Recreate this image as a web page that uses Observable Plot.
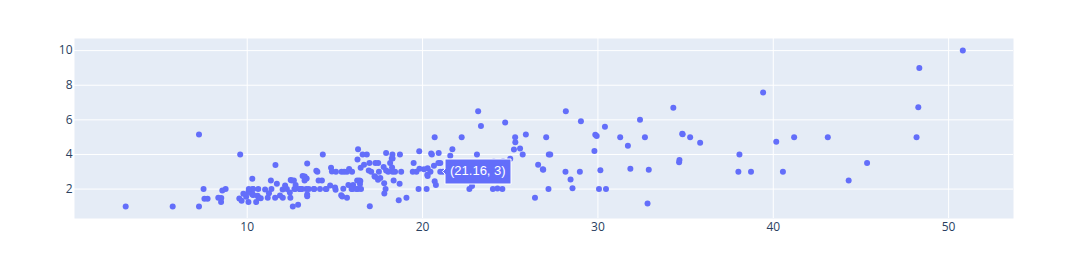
<!DOCTYPE html>
<html>
<head>
<meta charset="utf-8">
<script src="https://cdn.jsdelivr.net/npm/d3@7"></script>
<script src="https://cdn.jsdelivr.net/npm/@observablehq/plot@0.6"></script>
<style>
  html, body { margin: 0; padding: 0; background: #fff; }
  .hov text, .hov tspan { fill: #ffffff !important; }
</style>
</head>
<body>
<div id="chart"></div>
<script>
const totalBill = [16.99,10.34,21.01,23.68,24.59,25.29,8.77,26.88,15.04,14.78,10.27,35.26,15.42,18.43,14.83,21.58,10.33,16.29,16.97,20.65,17.92,20.29,15.77,39.42,19.82,17.81,13.37,12.69,21.7,19.65,9.55,18.35,15.06,20.69,17.78,24.06,16.31,16.93,18.69,31.27,16.04,17.46,13.94,9.68,30.4,18.29,22.23,32.4,28.55,18.04,12.54,10.29,34.81,9.94,25.56,19.49,38.01,26.41,11.24,48.27,20.29,13.81,11.02,18.29,17.59,20.08,16.45,3.07,20.23,15.01,12.02,17.07,26.86,25.28,14.73,10.51,17.92,27.2,22.76,17.29,19.44,16.66,10.07,32.68,15.98,34.83,13.03,18.28,24.71,21.16,28.97,22.49,5.75,16.32,22.75,40.17,27.28,12.03,21.01,12.46,11.35,15.38,44.3,22.42,20.92,15.36,20.49,25.21,18.24,14.31,14.0,7.25,38.07,23.95,25.71,17.31,29.93,10.65,12.43,24.08,11.69,13.42,14.26,15.95,12.48,29.8,8.52,14.52,11.38,22.82,19.08,20.27,11.17,12.26,18.26,8.51,10.33,14.15,16.0,13.16,17.47,34.3,41.19,27.05,16.43,8.35,18.64,11.87,9.78,7.51,14.07,13.13,17.26,24.55,19.77,29.85,48.17,25.0,13.39,16.49,21.5,12.66,16.21,13.81,17.51,24.52,20.76,31.71,10.59,10.63,50.81,15.81,7.25,31.85,16.82,32.9,17.89,14.48,9.6,34.63,34.65,23.33,45.35,23.17,40.55,20.69,20.9,30.46,18.15,23.1,15.69,19.81,28.44,15.48,16.58,7.56,10.34,43.11,13.0,13.51,18.71,12.74,13.0,16.4,20.53,16.47,26.59,38.73,24.27,12.76,30.06,25.89,48.33,13.27,28.17,12.9,28.15,11.59,7.74,30.14,12.16,13.42,8.58,15.98,13.42,16.27,10.09,20.45,13.28,22.12,24.01,15.69,11.61,10.77,15.53,10.07,12.6,32.83,35.83,29.03,27.18,22.67,17.82,18.78];
const tipAmount = [1.01,1.66,3.5,3.31,3.61,4.71,2.0,3.12,1.96,3.23,1.71,5.0,1.57,3.0,3.02,3.92,1.67,3.71,3.5,3.35,4.08,2.75,2.23,7.58,3.18,2.34,2.0,2.0,4.3,3.0,1.45,2.5,3.0,2.45,3.27,3.6,2.0,3.07,2.31,5.0,2.24,2.54,3.06,1.32,5.6,3.0,5.0,6.0,2.05,3.0,2.5,2.6,5.2,1.56,4.34,3.51,3.0,1.5,1.76,6.73,3.21,2.0,1.98,3.76,2.64,3.15,2.47,1.0,2.01,2.09,1.97,3.0,3.14,5.0,2.2,1.25,3.08,4.0,3.0,2.71,3.0,3.4,1.83,5.0,2.03,5.17,2.0,4.0,5.85,3.0,3.0,3.5,1.0,4.3,3.25,4.73,4.0,1.5,3.0,1.5,2.5,3.0,2.5,3.48,4.08,1.64,4.06,4.29,3.76,4.0,3.0,1.0,4.0,2.55,4.0,3.5,5.07,1.5,1.8,2.92,2.31,1.68,2.5,2.0,2.52,4.2,1.48,2.0,2.0,2.18,1.5,2.83,1.5,2.0,3.25,1.25,2.0,2.0,2.0,2.75,3.5,6.7,5.0,5.0,2.3,1.5,1.36,1.63,1.73,2.0,2.5,2.0,2.74,2.0,2.0,5.14,5.0,3.75,2.61,2.0,3.5,2.5,2.0,2.0,3.0,3.48,2.24,4.5,1.61,2.0,10.0,3.16,5.15,3.18,4.0,3.11,2.0,2.0,4.0,3.55,3.68,5.65,3.5,6.5,3.0,5.0,3.5,2.0,3.5,4.0,1.5,4.19,2.56,2.02,4.0,1.44,2.0,5.0,2.0,2.0,4.0,2.01,2.0,2.5,4.0,3.23,3.41,3.0,2.03,2.23,2.0,5.16,9.0,2.5,6.5,1.1,3.0,1.5,1.44,3.09,2.2,3.48,1.92,3.0,1.58,2.5,2.0,3.0,2.72,2.88,2.0,3.0,3.39,1.47,3.0,1.25,1.0,1.17,4.67,5.92,2.0,2.0,1.75,3.0];
const xTicks = [10, 20, 30, 40, 50];
const yTicks = [2, 4, 6, 8, 10];
const hovered = [{x: 21.16, y: 3}];

const data = totalBill.map((b, i) => ({x: b, y: tipAmount[i]}));

const chart = Plot.plot({
  width: 1088,
  height: 269,
  marginLeft: 74,
  marginRight: 75,
  marginTop: 38,
  marginBottom: 51,
  style: {
    fontFamily: "'Open Sans', verdana, arial, sans-serif",
    fontSize: "12px",
    color: "#2a3f5f",
    background: "#ffffff",
    overflow: "visible"
  },
  x: {domain: [0.15, 53.7], ticks: xTicks, tickSize: 0, tickPadding: 4, label: null},
  y: {domain: [0.3, 10.7], ticks: yTicks, tickSize: 0, tickPadding: 2, label: null},
  marks: [
    Plot.frame({fill: "#E5ECF6", stroke: "none"}),
    Plot.gridX(xTicks, {stroke: "#ffffff", strokeOpacity: 1, strokeWidth: 1}),
    Plot.gridY(yTicks, {stroke: "#ffffff", strokeOpacity: 1, strokeWidth: 1}),
    Plot.axisX(xTicks, {tickSize: 0, tickPadding: 4, label: null, fill: "#2a3f5f"}),
    Plot.axisY(yTicks, {tickSize: 0, tickPadding: 2, label: null, fill: "#2a3f5f"}),
    Plot.dot(data, {x: "x", y: "y", r: 3, fill: "#636efa", stroke: "none", fillOpacity: 1}),
    Plot.tip(hovered, {
      x: "x", y: "y",
      title: d => `(${d.x}, ${d.y})`,
      anchor: "left",
      fill: "#636efa",
      stroke: "#ffffff",
      strokeWidth: 1,
      pointerSize: 5,
      textPadding: 5,
      lineHeight: 0.5,
      fontSize: 13,
      fontFamily: "Arial, 'Liberation Sans', sans-serif",
      pathFilter: "none",
      className: "hov"
    })
  ]
});
document.getElementById("chart").appendChild(chart);
</script>
</body>
</html>
